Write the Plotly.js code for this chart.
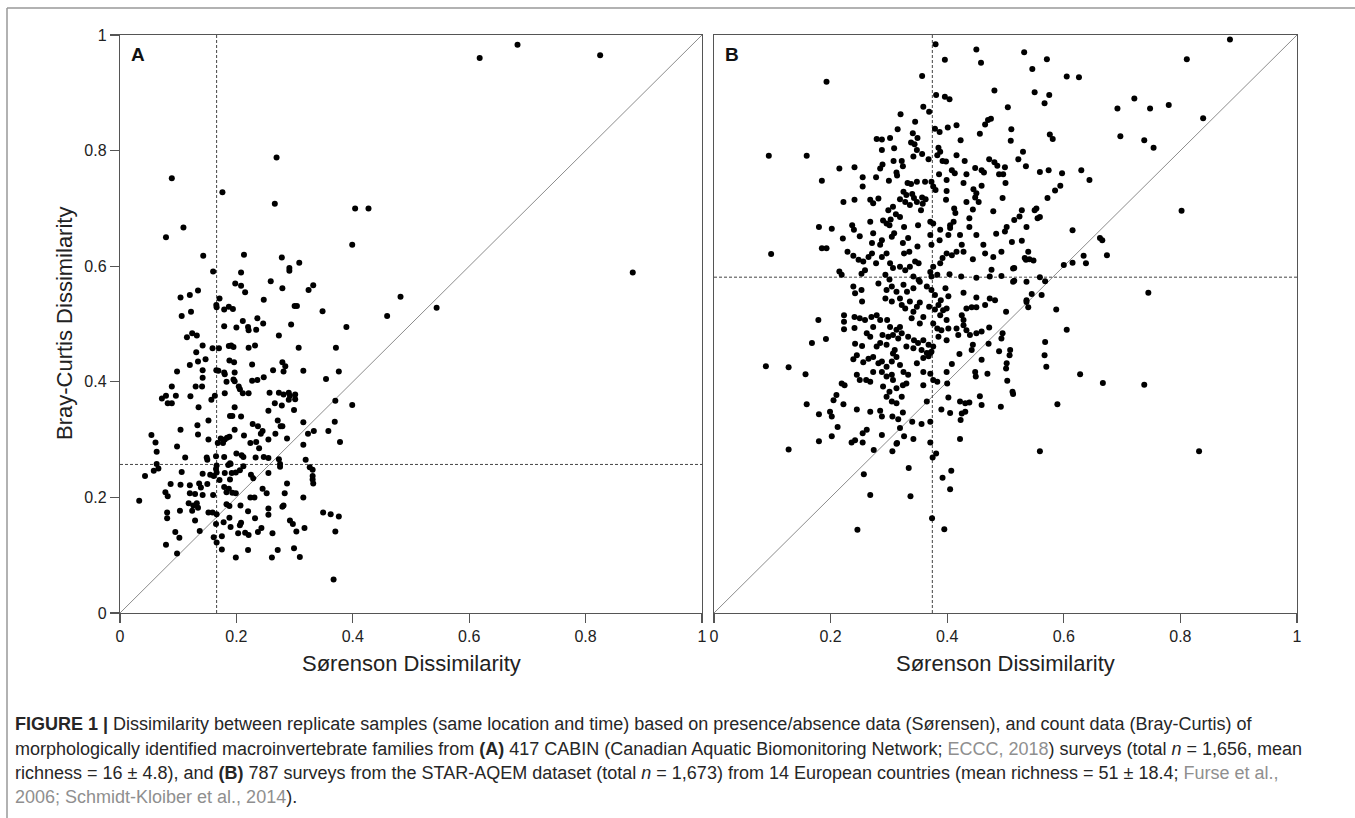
<!DOCTYPE html>
<html>
<head>
<meta charset="utf-8">
<script src="https://cdn.plot.ly/plotly-3.0.1.min.js"></script>
<style>html,body{margin:0;padding:0;background:#fff;}#chart{width:1355px;height:818px;}</style>
</head>
<body>
<div id="chart"></div>
<script>
// ---------- DATA ----------
// Panel A: CABIN surveys (x = Sørensen dissimilarity, y = Bray-Curtis dissimilarity)
const xA = [0.089,0.269,0.176,0.266,0.404,0.427,0.109,0.079,0.618,0.683,0.825,0.881,0.544,
0.399,0.143,0.213,0.278,0.308,0.291,0.291,0.160,0.208,0.198,0.208,0.259,0.332,0.324,0.279,0.215,0.134,0.120,0.104,0.171,0.1655,0.166,0.179,0.187,0.194,0.247,0.300,0.304,0.348,0.122,0.106,0.459,0.482,0.236,0.246,0.211,0.179,0.200,0.220,0.221,0.234,0.294,0.389,0.124,0.132,0.115,0.273,0.142,0.159,0.170,0.187,0.191,0.195,0.221,0.232,0.307,0.371,0.131,0.147,0.134,0.120,0.188,0.196,0.227,0.279,0.284,0.142,0.098,0.1655,0.169,0.179,0.180,0.197,0.247,0.263,0.281,0.315,0.376,0.354,0.142,0.183,0.195,0.197,0.227,0.236,0.089,0.130,0.141,0.204,0.206,0.211,0.221,0.257,0.273,0.281,0.290,0.292,0.301,0.301,0.290,0.072,0.079,0.096,0.082,0.089,0.121,0.157,0.163,0.180,0.266,0.278,0.370,0.399,0.135,0.197,0.255,0.299,0.189,0.193,0.208,0.271,0.152,0.228,0.237,0.245,0.242,0.276,0.279,0.133,0.315,0.333,0.323,0.358,0.369,0.197,0.213,0.104,0.054,0.134,0.152,0.267,0.287,0.315,0.378,0.061,0.063,0.098,0.168,0.173,0.177,0.180,0.184,0.188,0.224,0.234,0.239,0.255,0.112,0.149,0.150,0.165,0.179,0.200,0.209,0.212,0.233,0.247,0.255,0.273,0.319,0.189,0.166,0.212,0.326,
0.063,0.066,0.058,0.043,0.106,0.087,0.104,0.078,0.082,0.033,0.081,0.081,0.103,0.079,0.095,0.102,0.098,0.120,0.120,0.129,0.118,0.126,0.132,0.134,0.124,0.129,0.137,0.136,0.139,0.142,0.142,0.150,0.152,0.159,0.160,0.155,0.161,0.165,0.166,0.171,0.180,0.179,0.183,0.166,0.165,0.161,0.166,0.175,0.175,0.178,0.186,0.190,0.192,0.199,0.206,0.189,0.193,0.199,0.187,0.183,0.188,0.188,0.190,0.203,0.199,0.207,0.208,0.206,0.215,0.221,0.220,0.220,0.225,0.229,0.224,0.231,0.232,0.237,0.243,0.245,0.252,0.255,0.255,0.255,0.261,0.262,0.271,0.275,0.275,0.279,0.281,0.283,0.287,0.292,0.297,0.299,0.303,0.309,0.315,0.317,0.331,0.331,0.332,0.331,0.349,0.362,0.376,0.370,0.367];
const yA = [0.752,0.788,0.728,0.708,0.700,0.700,0.667,0.650,0.960,0.983,0.965,0.589,0.528,
0.637,0.618,0.620,0.615,0.606,0.597,0.592,0.591,0.589,0.570,0.566,0.574,0.567,0.559,0.562,0.555,0.558,0.550,0.546,0.544,0.533,0.529,0.525,0.530,0.526,0.542,0.531,0.531,0.522,0.521,0.514,0.514,0.547,0.510,0.501,0.505,0.496,0.494,0.495,0.489,0.490,0.499,0.495,0.484,0.480,0.477,0.480,0.463,0.458,0.458,0.462,0.463,0.460,0.459,0.463,0.459,0.459,0.451,0.439,0.435,0.429,0.437,0.434,0.430,0.434,0.427,0.420,0.418,0.420,0.419,0.416,0.413,0.416,0.408,0.420,0.418,0.419,0.418,0.405,0.407,0.400,0.404,0.401,0.402,0.403,0.392,0.392,0.392,0.392,0.387,0.380,0.380,0.381,0.381,0.378,0.381,0.376,0.378,0.370,0.369,0.371,0.376,0.376,0.363,0.363,0.375,0.369,0.376,0.380,0.363,0.359,0.367,0.360,0.356,0.356,0.350,0.351,0.341,0.341,0.340,0.333,0.333,0.327,0.323,0.315,0.310,0.323,0.323,0.325,0.330,0.315,0.310,0.315,0.331,0.317,0.307,0.317,0.308,0.309,0.300,0.310,0.302,0.291,0.296,0.295,0.279,0.288,0.294,0.302,0.294,0.300,0.303,0.305,0.294,0.296,0.285,0.300,0.269,0.269,0.265,0.271,0.270,0.276,0.273,0.270,0.269,0.270,0.268,0.266,0.265,0.259,0.255,0.254,0.252,
0.258,0.250,0.246,0.237,0.244,0.223,0.222,0.209,0.202,0.194,0.174,0.164,0.177,0.118,0.140,0.130,0.103,0.221,0.207,0.206,0.190,0.186,0.190,0.182,0.177,0.160,0.142,0.224,0.217,0.204,0.241,0.223,0.174,0.174,0.204,0.239,0.237,0.249,0.243,0.230,0.242,0.218,0.209,0.171,0.154,0.131,0.122,0.133,0.110,0.157,0.256,0.258,0.242,0.243,0.247,0.231,0.208,0.207,0.215,0.188,0.185,0.165,0.149,0.138,0.096,0.186,0.156,0.152,0.139,0.135,0.176,0.109,0.239,0.233,0.200,0.200,0.164,0.140,0.147,0.215,0.207,0.242,0.181,0.170,0.096,0.138,0.109,0.258,0.253,0.184,0.186,0.207,0.224,0.160,0.154,0.112,0.141,0.097,0.200,0.147,0.248,0.237,0.224,0.231,0.174,0.171,0.167,0.141,0.058];

// Panel B: STAR-AQEM surveys
const xB = [0.380,0.450,0.532,0.458,0.396,0.357,0.193,0.481,0.381,0.396,0.404,0.359,0.369,0.320,0.504,0.470,0.475,0.465,0.345,0.315,0.379,0.387,0.401,0.416,0.456,0.510,0.509,0.341,0.349,0.338,0.344,0.279,0.288,0.302,0.288,0.309,0.348,0.357,0.385,0.388,0.383,0.423,0.416,0.368,0.530,0.522,0.535,0.472,0.481,0.486,0.094,0.159,0.308,0.322,0.324,0.342,0.392,0.398,0.430,0.215,0.241,0.289,0.285,0.313,0.314,0.255,0.255,0.278,0.300,0.408,0.413,0.433,0.448,0.459,0.463,0.499,0.496,0.500,0.489,0.386,0.399,0.185,0.332,0.338,0.348,0.362,0.373,0.376,0.380,0.428,0.445,0.450,0.448,0.459,0.399,0.325,0.330,0.340,0.343,0.348,0.357,0.363,0.358,0.355,0.319,0.328,0.336,0.222,0.241,0.268,0.273,0.282,0.299,0.307,0.398,0.412,0.414,0.433,0.444,0.454,0.495,0.479,0.528,0.515,0.438,0.438,0.371,0.376,0.405,0.411,0.180,0.202,0.237,0.268,0.290,0.296,0.303,0.502,0.312,0.319,
0.240,0.250,0.271,0.273,0.285,0.288,0.301,0.305,0.309,0.326,0.324,0.333,0.350,0.349,0.371,0.373,0.388,0.387,0.402,0.405,0.422,0.425,0.428,0.450,0.462,0.484,0.499,0.511,0.528,0.535,0.539,0.098,0.185,0.193,0.221,0.229,0.239,0.248,0.256,0.265,0.271,0.278,0.259,0.253,0.288,0.296,0.302,0.307,0.319,0.328,0.336,0.345,0.351,0.326,0.335,0.371,0.376,0.388,0.392,0.399,0.408,0.416,0.444,0.465,0.479,0.476,0.493,0.513,0.215,0.219,0.294,0.301,0.342,0.351,0.404,0.424,0.450,0.473,0.493,0.513,0.536,0.373,0.383,0.239,0.242,0.253,0.282,0.296,0.305,0.313,0.325,0.331,0.342,0.353,0.365,0.373,0.379,0.389,0.397,0.402,0.428,0.450,0.473,0.482,0.536,0.254,0.294,0.305,0.319,0.322,0.328,0.336,0.348,0.342,0.353,0.369,0.379,0.385,0.393,0.399,0.388,0.433,0.442,0.450,0.465,0.425,0.428,0.501,0.179,0.223,0.223,0.223,0.241,0.250,0.259,0.270,0.279,0.285,0.297,0.302,0.313,0.319,0.339,0.353,0.359,0.376,0.383,0.390,0.402,0.399,0.416,0.428,0.433,0.439,0.450,0.459,0.472,0.495,0.241,0.262,0.273,0.289,0.299,0.307,0.316,0.322,0.333,0.343,0.350,0.359,0.368,0.376,0.385,0.399,0.419,0.168,0.192,0.242,0.254,0.268,0.279,0.285,0.296,0.310,0.330,0.342,0.356,0.365,0.373,0.444,0.442,0.471,0.493,0.508,0.507,0.489,0.421,0.239,0.245,0.256,0.265,0.273,0.282,0.288,0.296,0.305,0.307,0.313,0.319,0.348,0.359,0.368,0.371,0.089,0.128,0.157,0.245,0.250,0.261,0.268,0.273,0.288,0.296,0.305,0.307,0.325,0.333,0.330,0.359,0.371,0.376,0.383,0.399,0.408,0.448,0.449,0.469,0.459,0.502,0.501,0.503,0.512,0.513,0.219,0.224,0.290,0.301,0.313,0.324,0.359,0.400,0.210,0.205,0.222,0.296,0.305,0.313,0.322,0.365,0.402,0.422,0.431,0.438,0.456,0.459,0.159,0.180,0.199,0.202,0.245,0.268,0.285,0.288,0.306,0.316,0.324,0.390,0.405,0.425,0.431,0.423,0.492,0.319,0.340,0.356,0.371,0.212,0.262,0.255,0.180,0.202,0.236,0.242,0.255,0.288,0.313,0.326,0.342,0.371,0.422,0.128,
0.274,0.306,0.314,0.334,0.257,0.268,0.337,0.246,0.375,0.381,0.392,0.407,0.405,0.374,0.395,
0.885,0.571,0.811,0.546,0.605,0.626,0.550,0.575,0.567,0.721,0.692,0.748,0.780,0.839,0.576,0.581,0.697,0.738,0.754,0.559,0.574,0.597,0.630,0.644,0.594,0.585,0.572,0.802,0.550,0.553,0.559,0.555,0.524,0.536,0.615,0.662,0.666,0.674,0.533,0.541,0.548,0.600,0.615,0.634,0.638,0.515,0.515,0.559,0.568,0.745,0.545,0.562,0.536,0.539,0.587,0.605,0.568,0.567,0.570,0.628,0.667,0.738,0.589,0.559,0.832];
const yB = [0.984,0.975,0.970,0.952,0.957,0.929,0.919,0.904,0.896,0.893,0.889,0.876,0.867,0.863,0.875,0.853,0.855,0.845,0.850,0.837,0.838,0.832,0.840,0.844,0.829,0.837,0.817,0.830,0.822,0.814,0.811,0.820,0.819,0.822,0.801,0.804,0.801,0.794,0.805,0.798,0.792,0.818,0.792,0.785,0.798,0.785,0.773,0.785,0.780,0.774,0.791,0.791,0.782,0.782,0.773,0.790,0.782,0.781,0.782,0.769,0.771,0.776,0.769,0.762,0.757,0.754,0.738,0.754,0.748,0.766,0.761,0.759,0.770,0.766,0.762,0.771,0.759,0.744,0.759,0.759,0.749,0.748,0.744,0.742,0.746,0.746,0.746,0.738,0.732,0.744,0.733,0.726,0.719,0.739,0.730,0.729,0.723,0.725,0.718,0.711,0.719,0.716,0.708,0.697,0.716,0.711,0.706,0.711,0.715,0.715,0.709,0.717,0.697,0.703,0.715,0.700,0.692,0.711,0.698,0.711,0.718,0.695,0.697,0.680,0.683,0.668,0.677,0.674,0.671,0.677,0.668,0.665,0.671,0.677,0.679,0.674,0.681,0.668,0.690,0.685,
0.663,0.652,0.640,0.657,0.637,0.645,0.671,0.651,0.657,0.668,0.640,0.649,0.671,0.634,0.654,0.637,0.663,0.645,0.654,0.666,0.654,0.637,0.625,0.654,0.637,0.656,0.660,0.642,0.644,0.611,0.625,0.621,0.631,0.631,0.648,0.625,0.618,0.611,0.608,0.616,0.622,0.605,0.593,0.587,0.616,0.622,0.605,0.597,0.599,0.593,0.599,0.608,0.605,0.622,0.625,0.590,0.599,0.605,0.614,0.622,0.619,0.625,0.612,0.622,0.616,0.594,0.625,0.596,0.591,0.585,0.585,0.577,0.582,0.576,0.586,0.582,0.580,0.582,0.583,0.573,0.573,0.582,0.585,0.565,0.553,0.559,0.570,0.559,0.565,0.556,0.568,0.556,0.562,0.573,0.565,0.559,0.550,0.541,0.562,0.548,0.554,0.546,0.544,0.541,0.538,0.539,0.544,0.539,0.544,0.533,0.527,0.539,0.530,0.521,0.537,0.530,0.525,0.533,0.524,0.527,0.515,0.527,0.529,0.529,0.533,0.515,0.507,0.521,0.507,0.515,0.504,0.491,0.512,0.510,0.507,0.512,0.515,0.507,0.507,0.495,0.490,0.495,0.510,0.501,0.512,0.501,0.492,0.489,0.492,0.507,0.492,0.498,0.489,0.481,0.484,0.487,0.494,0.484,0.493,0.484,0.495,0.481,0.478,0.481,0.475,0.484,0.478,0.472,0.467,0.472,0.464,0.461,0.478,0.472,0.481,0.467,0.474,0.466,0.462,0.478,0.461,0.467,0.464,0.455,0.461,0.458,0.455,0.450,0.452,0.464,0.455,0.466,0.475,0.455,0.446,0.453,0.448,0.439,0.446,0.434,0.440,0.443,0.432,0.435,0.426,0.435,0.449,0.443,0.429,0.432,0.441,0.444,0.450,0.427,0.425,0.413,0.412,0.403,0.403,0.400,0.417,0.417,0.409,0.412,0.403,0.417,0.412,0.397,0.417,0.414,0.403,0.400,0.417,0.431,0.417,0.409,0.414,0.438,0.432,0.423,0.402,0.383,0.379,0.397,0.394,0.392,0.383,0.389,0.394,0.394,0.397,0.377,0.368,0.361,0.374,0.366,0.363,0.374,0.366,0.373,0.366,0.363,0.364,0.375,0.360,0.361,0.344,0.348,0.340,0.352,0.348,0.350,0.340,0.340,0.335,0.347,0.352,0.346,0.345,0.348,0.334,0.357,0.320,0.331,0.327,0.331,0.322,0.317,0.311,0.297,0.306,0.295,0.299,0.295,0.308,0.293,0.306,0.301,0.295,0.301,0.283,
0.282,0.280,0.294,0.251,0.240,0.204,0.202,0.144,0.269,0.276,0.234,0.246,0.214,0.164,0.145,
0.992,0.958,0.958,0.941,0.928,0.927,0.901,0.896,0.882,0.890,0.873,0.873,0.879,0.856,0.828,0.820,0.825,0.818,0.805,0.763,0.766,0.761,0.766,0.749,0.739,0.731,0.718,0.696,0.697,0.700,0.685,0.683,0.686,0.668,0.662,0.649,0.645,0.619,0.614,0.612,0.610,0.602,0.606,0.618,0.605,0.597,0.575,0.581,0.574,0.554,0.552,0.550,0.541,0.529,0.525,0.490,0.469,0.446,0.426,0.413,0.398,0.395,0.361,0.280,0.280];

// Reference lines: 1:1 line and mean dissimilarities
const diag = [0, 1];
const meanSorA = 0.166, meanBrayA = 0.257;
const meanSorB = 0.3745, meanBrayB = 0.581;
const tickVals = [0, 0.2, 0.4, 0.6, 0.8, 1];
const tickText = ['0', '0.2', '0.4', '0.6', '0.8', '1'];

// ---------- CHART ----------
const W = 1355, H = 818;
const px = v => v / W;
const py = v => 1 - v / H;
const FONT = 'Liberation Sans, Arial, sans-serif';
const axColor = '#555';

const dashLine = {color: '#444', width: 1, dash: '3px,2px'};
const diagLine = {color: '#8c8c8c', width: 1};
const mk = {size: 6, color: '#000'};

function panelTraces(xs, ys, mSor, mBray, xa, ya) {
  return [
    {x: diag, y: diag, mode: 'lines', line: diagLine, xaxis: xa, yaxis: ya, hoverinfo: 'skip'},
    {x: [mSor, mSor], y: diag, mode: 'lines', line: dashLine, xaxis: xa, yaxis: ya, hoverinfo: 'skip'},
    {x: diag, y: [mBray, mBray], mode: 'lines', line: dashLine, xaxis: xa, yaxis: ya, hoverinfo: 'skip'},
    {x: xs, y: ys, mode: 'markers', marker: mk, xaxis: xa, yaxis: ya, type: 'scatter'}
  ];
}

const data = [].concat(
  panelTraces(xA, yA, meanSorA, meanBrayA, 'x', 'y'),
  panelTraces(xB, yB, meanSorB, meanBrayB, 'x2', 'y2')
);

const axBase = {
  range: [0, 1], showline: true, mirror: true, linecolor: axColor, linewidth: 1.2,
  ticks: 'outside', ticklen: 9, tickwidth: 1.2, tickcolor: axColor,
  showgrid: false, zeroline: false, fixedrange: true,
  tickvals: tickVals, ticktext: tickText,
  tickfont: {family: FONT, size: 16, color: '#222'}
};
const yDom = [py(613), py(35)];

const grey = '#8f8f8f';
const capFont = {family: FONT, size: 18, color: '#262626'};
const capLines = [
  '<b>FIGURE 1 |</b> Dissimilarity between replicate samples (same location and time) based on presence/absence data (Sørensen), and count data (Bray-Curtis) of',
  'morphologically identified macroinvertebrate families from <b>(A)</b> 417 CABIN (Canadian Aquatic Biomonitoring Network; <span style="color:' + grey + '">ECCC, 2018</span>) surveys (total <i>n</i> = 1,656, mean',
  'richness = 16 ± 4.8), and <b>(B)</b> 787 surveys from the STAR-AQEM dataset (total <i>n</i> = 1,673) from 14 European countries (mean richness = 51 ± 18.4; <span style="color:' + grey + '">Furse et al.,</span>',
  '<span style="color:' + grey + '">2006; Schmidt-Kloiber et al., 2014</span>).'
];
const capY = [724, 749, 773, 797];

const titleFont = {family: FONT, size: 22, color: '#222'};
const annotations = [
  {text: '<b>A</b>', x: px(129), y: py(54), xref: 'paper', yref: 'paper', xanchor: 'left', yanchor: 'middle', showarrow: false, font: {family: FONT, size: 19, color: '#111'}},
  {text: '<b>B</b>', x: px(723), y: py(54), xref: 'paper', yref: 'paper', xanchor: 'left', yanchor: 'middle', showarrow: false, font: {family: FONT, size: 19, color: '#111'}},
  {text: 'Sørenson Dissimilarity', x: px(411), y: py(663), xref: 'paper', yref: 'paper', xanchor: 'center', yanchor: 'middle', showarrow: false, font: titleFont},
  {text: 'Sørenson Dissimilarity', x: px(1005.5), y: py(663), xref: 'paper', yref: 'paper', xanchor: 'center', yanchor: 'middle', showarrow: false, font: titleFont},
  {text: 'Bray-Curtis Dissimilarity', x: px(65), y: py(324), xref: 'paper', yref: 'paper', xanchor: 'center', yanchor: 'middle', textangle: -90, showarrow: false, font: titleFont}
].concat(capLines.map((t, i) => ({
  text: t, x: px(13), y: py(capY[i]), xref: 'paper', yref: 'paper', xanchor: 'left', yanchor: 'middle', align: 'left', showarrow: false, font: capFont
})));

const layout = {
  width: W, height: H,
  margin: {l: 0, r: 0, t: 0, b: 0},
  paper_bgcolor: '#fff', plot_bgcolor: '#fff',
  showlegend: false,
  xaxis: Object.assign({}, axBase, {domain: [px(120), px(702)], anchor: 'y'}),
  yaxis: Object.assign({}, axBase, {domain: yDom, anchor: 'x'}),
  xaxis2: Object.assign({}, axBase, {domain: [px(714), px(1297)], anchor: 'y2'}),
  yaxis2: Object.assign({}, axBase, {domain: yDom, anchor: 'x2', showticklabels: false, ticks: ''}),
  shapes: [
    {type: 'line', xref: 'paper', yref: 'paper', x0: px(7), x1: px(1360), y0: py(8), y1: py(8), line: {color: '#999', width: 1.5}},
    {type: 'line', xref: 'paper', yref: 'paper', x0: px(7), x1: px(7), y0: py(8), y1: py(830), line: {color: '#999', width: 1.5}}
  ],
  annotations: annotations
};

Plotly.newPlot('chart', data, layout, {displayModeBar: false, staticPlot: true});
</script>
</body>
</html>
